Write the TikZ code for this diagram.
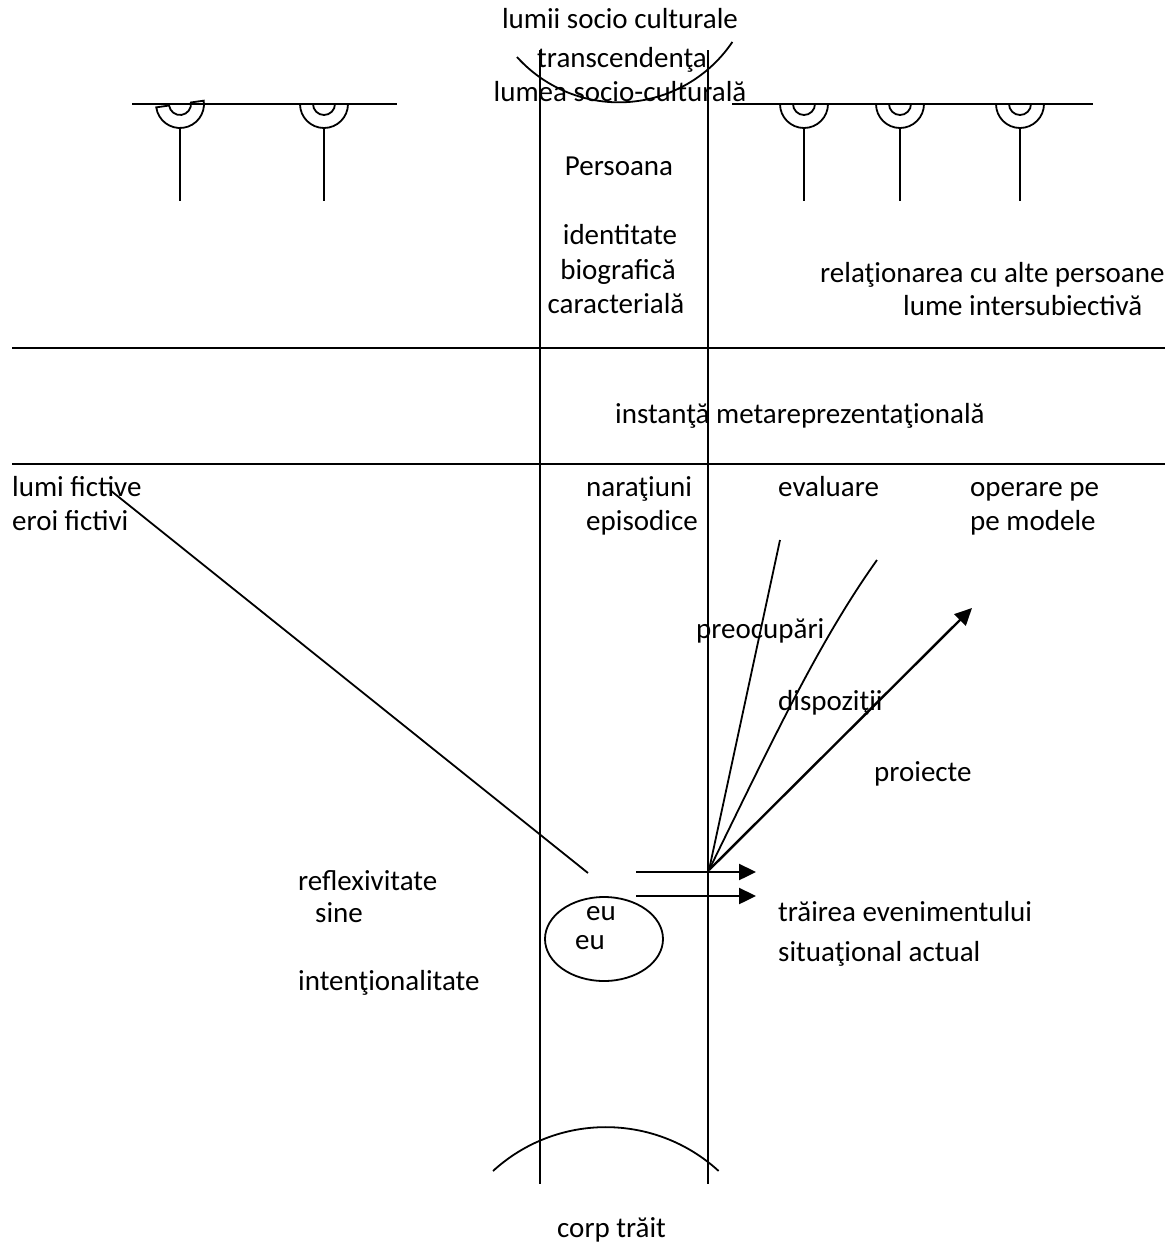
\documentclass[tikz,border=0pt]{standalone}
\usepackage{fontspec}
\setmainfont{Carlito}
\usetikzlibrary{arrows.meta,shapes.geometric}
\begin{document}
\begin{tikzpicture}[x=1pt,y=-1pt,
  ln/.style={line width=1.8pt,black},
  thick arrow/.style={line width=2.4pt,-{Triangle[length=17pt,width=16pt]}},
  lbl/.style={inner sep=0pt,anchor=base west,font=\fontsize{29}{35}\selectfont},
  clbl/.style={inner sep=0pt,anchor=base,font=\fontsize{29}{35}\selectfont},
  ring/.pic={\draw[ln] (-24,0) arc[start angle=180,end angle=360,radius=24pt] -- (11,0)
      arc[start angle=0,end angle=-180,radius=11pt] -- cycle;}
]
\useasboundingbox[fill=white] (0,0) rectangle (1172,1243);

% top rails with sockets
\draw[ln] (132,104) -- (397,104);
\draw[ln] (732,104) -- (1093,104);
\pic[rotate=8] at (180,104) {ring};
\pic at (324,104) {ring};
\pic at (804,104) {ring};
\pic at (900,104) {ring};
\pic at (1020,104) {ring};
\draw[ln] (180,128) -- (180,201);
\draw[ln] (324,128) -- (324,201);
\draw[ln] (804,128) -- (804,201);
\draw[ln] (900,128) -- (900,201);
\draw[ln] (1020,128) -- (1020,201);

% vertical column
\draw[ln] (540,50) -- (540,1184);
\draw[ln] (708,50) -- (708,1184);

% horizontal bands
\draw[ln] (12,348) -- (1165,348);
\draw[ln] (12,464) -- (1165,464);

% arcs
\draw[ln] (517,57) arc[start angle=222,end angle=326,radius=137pt];
\draw[ln] (493,1171) arc[start angle=132.5,end angle=47.5,radius=167pt];

% texts
\node[clbl] (t1) at (620,28) {lumii socio culturale};
\node[clbl] (t2) at (622,67) {transcendenţa};
\node[clbl] (t3) at (620,101) {lumea socio-culturală};
\node[clbl] (pers) at (619,175) {Persoana};
\node[clbl] (id1) at (620,244) {identitate};
\node[clbl] (id2) at (618,279) {biografică};
\node[clbl] (id3) at (616,313) {caracterială};
\node[lbl] (rel1) at (820,282) {relaţionarea cu alte persoane};
\node[lbl] (rel2) at (903,315) {lume intersubiectivă};
\node[lbl] (meta) at (615,423) {instanţă metareprezentaţională};
\node[lbl] (fic1) at (12,496) {lumi fictive};
\node[lbl] (fic2) at (12,530) {eroi fictivi};
\node[lbl] (nar1) at (586,496) {naraţiuni};
\node[lbl] (nar2) at (586,530) {episodice};
\node[lbl] (eval) at (778,496) {evaluare};
\node[lbl] (op1) at (970,496) {operare pe};
\node[lbl] (op2) at (970,530) {pe modele};
\node[lbl] (preo) at (696,638) {preocupări};
\node[lbl] (disp) at (778,710) {dispoziţii};
\node[lbl] (proi) at (874,781) {proiecte};
\node[lbl] (refl) at (298,890) {reflexivitate};
\node[lbl] (sine) at (315,922) {sine};
\node[lbl] (inte) at (298,990) {intenţionalitate};
\node[lbl] (tr1) at (778,921) {trăirea evenimentului};
\node[lbl] (tr2) at (778,961) {situaţional actual};
\node[lbl] (corp) at (557,1237) {corp trăit};

% self ellipse
\node[draw,line width=1.8pt,ellipse,minimum width=118pt,minimum height=84pt,inner sep=0pt] (self) at (604,939) {};
\node[lbl] (eu1) at (586,920) {eu};
\node[lbl] (eu2) at (575,949) {eu};

% connectors
\coordinate (fs) at (110,490);
\coordinate (fe) at (588,873);
\draw[ln] (fs) -- (fe);
\coordinate (O) at (709,870);
\coordinate (ev) at (780,540);
\coordinate (dp) at (877,560);
\coordinate (pr) at (972,608);
\draw[ln] (O) -- (ev);
\draw[ln] (O) .. controls (775,735) and (820,640) .. (dp);
\draw[thick arrow] (O) -- (pr);
\coordinate (a1s) at (636,872);
\coordinate (a1e) at (756,872);
\coordinate (a2s) at (636,896);
\coordinate (a2e) at (756,896);
\draw[thick arrow] (a1s) -- (a1e);
\draw[thick arrow] (a2s) -- (a2e);
\end{tikzpicture}
\end{document}
